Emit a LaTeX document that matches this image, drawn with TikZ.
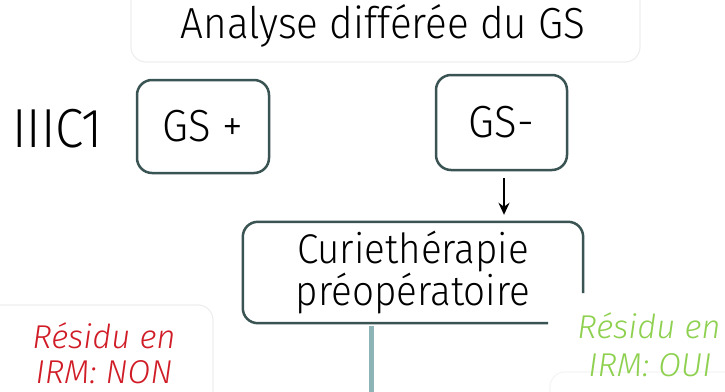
\documentclass[tikz,border=0pt]{standalone}
\usepackage{fontspec}
\setmainfont{Fira Sans}[FakeStretch=0.93, UprightFont={* Light}, ItalicFont={* Light Italic}]
\newfontfamily\resfont{Fira Sans}[FakeStretch=1.0, UprightFont={* Light}, ItalicFont={* Light Italic}]
\usetikzlibrary{arrows.meta}
\definecolor{boxline}{HTML}{3A5353}
\definecolor{faint}{HTML}{EEEEEE}
\definecolor{fainter}{HTML}{F5F5F5}
\definecolor{tealline}{HTML}{8DB5B7}
\definecolor{resred}{HTML}{D01C26}
\definecolor{resgreen}{HTML}{8ED04F}
\tikzset{
  gsbox/.style={draw=boxline, line width=2.5pt, rounded corners=15pt, inner sep=0pt, font=\fontsize{45}{48}\selectfont},
  faintbox/.style={draw=faint, line width=1.2pt, rounded corners=15pt},
  reslabel/.style={font=\resfont\fontsize{33}{38}\selectfont\itshape, align=center, inner sep=0pt},
}
\begin{document}
\begin{tikzpicture}[x=1pt,y=-1pt]
\useasboundingbox (0,0) rectangle (725,391);
\clip (0,0) rectangle (725,391);
% faint background boxes
\draw[faintbox] (131,-20) rectangle (640,62);
\draw[faintbox] (-20,305) rectangle (213,420);
\draw[faintbox, draw=fainter] (550,372) rectangle (745,440);
% title
\node[anchor=base, inner sep=0pt, font=\fontsize{43.5}{48}\selectfont] (title) at (383,38) {Analyse différée du GS};
% IIIC1
\node[anchor=base, inner sep=0pt, font=\fontsize{55}{58}\selectfont] (stage) at (57.5,147) {IIIC1};
% GS boxes
\node[gsbox, minimum width=132pt, minimum height=93pt] (gsp) at (203,126.5) {GS +};
\node[gsbox, minimum width=131pt, minimum height=95pt] (gsm) at (501.5,122.5) {GS-};
% Curietherapie box (node for text, partial border drawn below)
\node[inner sep=0pt, minimum width=340pt, minimum height=101pt, align=center,
      font=\fontsize{41.5}{37}\selectfont] (curie) at (413,272.5) {Curiethérapie\\préopératoire};
\coordinate (curieright) at (583,293);
\coordinate (curiebottom) at (548,323);
\draw[draw=boxline, line width=2.5pt, rounded corners=15pt]
  (curiebottom) -- (curie.south west) -- (curie.north west)
  -- (curie.north east) -- (curieright);
% arrow
\draw[line width=1.8pt, -{Stealth[length=12pt,width=11pt]}, shorten <=7pt, shorten >=7pt]
  ([xshift=2.5pt]gsm.south) -- ([xshift=2.5pt]gsm.south |- curie.north);
% teal line
\coordinate (tealend) at (371,400);
\draw[tealline, line width=5pt, shorten <=3pt] (curie.south -| tealend) -- (tealend);
% residue labels
\node[reslabel, text=resred, anchor=base] (resnon) at (104,348) {Résidu en};
\node[reslabel, text=resred, anchor=base] (resnon2) at (104,383) {IRM: NON};
\node[reslabel, text=resgreen, anchor=base] (resoui) at (649,338) {Résidu en};
\node[reslabel, text=resgreen, anchor=base] (resoui2) at (650,376) {IRM: OUI};
\end{tikzpicture}
\end{document}
